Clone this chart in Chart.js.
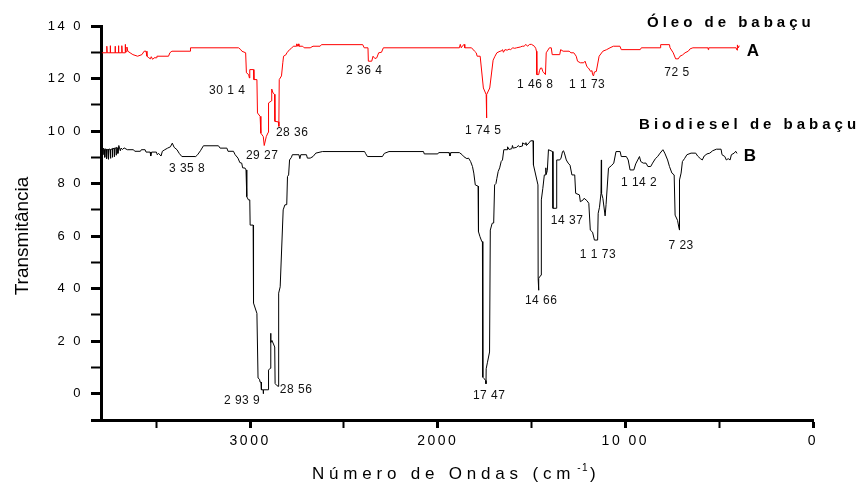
<!DOCTYPE html>
<html>
<head>
<meta charset="utf-8">
<script src="https://cdn.jsdelivr.net/npm/chart.js@4.4.0/dist/chart.umd.min.js"></script>
<style>
  html, body { margin: 0; padding: 0; background: #fff; }
</style>
</head>
<body>
<canvas id="espectro" width="861" height="485"></canvas>
<script>
// Espectros FTIR do oleo e do biodiesel de babacu
// Numero de ondas (cm-1) e transmitancia
const oleoOndas = [3790, 3764, 3764, 3762, 3746, 3746, 3744, 3720, 3720, 3718, 3702, 3702, 3700, 3684, 3684, 3682, 3666, 3666, 3664, 3657, 3657, 3652, 3640, 3625, 3600, 3577, 3565, 3555, 3550, 3540, 3532, 3527, 3520, 3512, 3500, 3497, 3435, 3428, 3417, 3320, 3318, 3062, 3050, 3044, 3024, 3020, 3008, 3004, 3002, 2982, 2980, 2964, 2961, 2947, 2943, 2930, 2925, 2914, 2904, 2902, 2886, 2885, 2878, 2870, 2868, 2850, 2847, 2845, 2833, 2826, 2822, 2810, 2804, 2790, 2780, 2770, 2755, 2752, 2748, 2744, 2740, 2720, 2712, 2680, 2665, 2627, 2620, 2400, 2392, 2372, 2370, 2352, 2345, 2335, 2325, 2315, 2300, 2290, 1885, 1880, 1875, 1868, 1860, 1856, 1820, 1805, 1795, 1790, 1774, 1757, 1742, 1741, 1738, 1723, 1705, 1695, 1685, 1668, 1660, 1655, 1650, 1642, 1630, 1620, 1612, 1600, 1590, 1580, 1560, 1550, 1540, 1530, 1522, 1510, 1500, 1485, 1478, 1474, 1472, 1462, 1458, 1452, 1446, 1440, 1426, 1422, 1405, 1395, 1390, 1350, 1345, 1332, 1300, 1290, 1275, 1262, 1255, 1240, 1222, 1215, 1205, 1197, 1185, 1178, 1175, 1170, 1165, 1155, 1140, 1120, 1100, 1082, 1064, 1029, 1022, 921, 915, 815, 812, 765, 762, 745, 732, 718, 709, 695, 682, 665, 655, 640, 560, 558, 556, 410, 405, 403, 398, 393]
const oleoTrans = [129.8, 129.8, 132.3, 129.8, 129.8, 132.5, 129.8, 129.8, 132.3, 129.8, 129.8, 132.5, 129.8, 129.8, 132.5, 129.8, 129.8, 133, 130.2, 130.2, 132, 130.4, 129.8, 129.1, 128.5, 129.1, 130.4, 130.4, 128.5, 127.9, 127.5, 128.3, 127.3, 127.9, 127.9, 128.5, 128.5, 129.8, 130.4, 130.4, 131.7, 131.7, 131, 130.4, 129.8, 122.2, 121.5, 120.2, 123.4, 123.4, 119.6, 119.6, 106.9, 105.6, 99.2, 97.9, 94.5, 97.9, 99.5, 110.7, 111.5, 116, 114.5, 114, 103.7, 103.5, 101.8, 119.6, 121, 126, 128.5, 129, 129.8, 131, 131.5, 132.3, 132.3, 133.2, 132.3, 133.2, 132.3, 132.3, 131.7, 131.7, 132.3, 132.3, 132.9, 132.9, 131.7, 131.7, 126.6, 126.6, 128.5, 127.6, 127.9, 129.8, 130, 131.7, 131.7, 133, 131.7, 132.4, 133, 131.7, 131.7, 130.5, 129.8, 128.5, 128.5, 116.4, 113.9, 105, 113.9, 116.4, 127, 128.5, 129.8, 130.4, 130.5, 131, 130, 131, 130.8, 131.2, 131, 131.7, 131.5, 131.7, 132, 132.3, 132.3, 133, 132.3, 133, 133, 132.3, 131.5, 130.4, 121.5, 121.5, 123, 124, 124, 122.7, 121.5, 129.8, 131.7, 131.7, 129.1, 129.1, 131, 130.4, 130.4, 129.8, 129.8, 128.5, 126.6, 126, 126, 126.6, 124.5, 124, 122.7, 123, 121.5, 121, 122.5, 122.7, 128.5, 130.4, 131, 131.7, 132.3, 132.3, 131, 131, 131.7, 131.7, 132.9, 132.9, 131.7, 129.8, 127.5, 127.5, 128.5, 129, 129.8, 130.4, 131.3, 131.7, 131.7, 131, 131.7, 131.7, 130.8, 132.8, 131.7, 132.5]

const biodieselOndas = [3790, 3785, 3785, 3782, 3775, 3775, 3772, 3765, 3765, 3762, 3755, 3755, 3752, 3745, 3745, 3742, 3735, 3735, 3732, 3725, 3725, 3722, 3715, 3715, 3712, 3705, 3705, 3700, 3692, 3688, 3680, 3672, 3655, 3622, 3615, 3585, 3580, 3560, 3555, 3533, 3530, 3525, 3500, 3495, 3488, 3475, 3468, 3455, 3440, 3425, 3415, 3405, 3390, 3378, 3364, 3290, 3280, 3265, 3249, 3169, 3160, 3124, 3118, 3089, 3080, 3065, 3055, 3045, 3040, 3027, 3022, 3018, 3009, 3002, 3000, 2984, 2982, 2964, 2958, 2950, 2947, 2942, 2940, 2930, 2930, 2929, 2903, 2902, 2893, 2891, 2889, 2884, 2869, 2867, 2859, 2850, 2848, 2840, 2824, 2815, 2805, 2801, 2795, 2790, 2780, 2775, 2740, 2735, 2730, 2700, 2695, 2680, 2665, 2650, 2615, 2390, 2385, 2375, 2295, 2285, 2260, 2076, 2072, 2000, 1995, 1940, 1935, 1930, 1885, 1870, 1862, 1845, 1836, 1825, 1815, 1808, 1800, 1785, 1783, 1775, 1765, 1762, 1760, 1752, 1745, 1743, 1742, 1735, 1724, 1720, 1710, 1702, 1697, 1690, 1685, 1678, 1670, 1662, 1655, 1648, 1630, 1628, 1620, 1605, 1602, 1598, 1580, 1570, 1565, 1550, 1548, 1535, 1530, 1527, 1510, 1505, 1492, 1490, 1466, 1465, 1462, 1462, 1449, 1448, 1440, 1432, 1425, 1424, 1422, 1416, 1410, 1388, 1386, 1368, 1366, 1350, 1343, 1335, 1330, 1325, 1315, 1305, 1295, 1285, 1270, 1265, 1245, 1240, 1225, 1220, 1205, 1195, 1187, 1175, 1165, 1148, 1145, 1138, 1130, 1128, 1127, 1120, 1108, 1103, 1090, 1075, 1062, 1050, 1028, 1022, 995, 985, 975, 955, 945, 925, 918, 905, 890, 880, 865, 855, 840, 828, 815, 800, 790, 775, 765, 752, 740, 735, 722, 714, 712, 711, 703, 696, 685, 672, 650, 625, 615, 600, 590, 580, 565, 550, 535, 515, 490, 485, 470, 462, 452, 442, 435, 420, 412, 405]
const biodieselTrans = [93.5, 93, 91, 93.5, 93, 90, 93.2, 93, 89.5, 93, 93, 89.3, 93.2, 93, 89.6, 93, 93.2, 90, 93.4, 93.3, 90.2, 93.5, 93.5, 90.8, 93.8, 93.5, 91.5, 94.5, 92.5, 93.5, 93, 93.6, 92.9, 92.9, 92.3, 92.3, 92.9, 92.9, 92, 92, 90.5, 92, 92, 91, 91.5, 90.5, 92.3, 92.9, 93.5, 94, 95.4, 93.8, 92.9, 91.5, 90.3, 90.3, 91, 92.5, 94.4, 94.4, 93.5, 93.5, 92.3, 92.3, 91, 89.7, 88, 87.8, 86, 85.9, 85.2, 75, 73.8, 73.8, 64.2, 64.2, 34.5, 30.6, 6, 5.5, 4.4, 4.4, 1.5, 1.5, 0, 1.5, 1.5, 9, 9.7, 23, 19.5, 20.3, 17.8, 3.9, 3.2, 2.8, 38.3, 40.7, 70, 71.9, 72, 82.7, 83.3, 89, 90, 91, 91, 89.5, 91, 91, 89.7, 89.7, 90.3, 91.6, 92.2, 92.2, 91.5, 90.3, 90.3, 91.5, 92.2, 92.2, 91.3, 91.3, 91.8, 91.8, 90.5, 91.8, 91.8, 91, 90.3, 89.5, 89.7, 88.4, 86.5, 84, 79.5, 79, 61.7, 59.8, 57.9, 57.9, 6.3, 5.7, 5, 3.8, 9.5, 12, 15.9, 62.3, 64.9, 65, 79.5, 80, 82, 84.6, 86, 88.4, 89, 92.9, 92.9, 94, 93, 93.3, 94.5, 93.5, 93.8, 94.5, 94, 94.3, 95.5, 95, 95.6, 94.5, 95.8, 96.3, 96.3, 87.1, 79.5, 43.9, 39.4, 44, 45.2, 73.8, 78.2, 83.3, 83.3, 86, 83.5, 85, 92.9, 92.2, 70.6, 70.6, 89, 89, 89.7, 92.2, 92.5, 91.6, 89, 87.8, 87, 83.3, 83.3, 76.3, 75.7, 73.1, 73.8, 74.4, 73.5, 72.5, 62.3, 61.5, 58.5, 58.5, 68.7, 71, 76.3, 89, 76.3, 74.4, 67.7, 72, 85.9, 86.8, 87.8, 92.2, 92.2, 90.3, 90.3, 89, 85.2, 85.2, 87.5, 90.3, 88.4, 87.8, 87.8, 86.5, 86.5, 87.8, 89.5, 90.3, 91.6, 92.9, 91.6, 89, 86.5, 84, 83.3, 68, 66, 63, 62.3, 81.4, 84, 88.4, 89.5, 91, 91.6, 91.6, 90.5, 89.5, 89, 90.5, 91.3, 91.6, 92.5, 93.1, 93.1, 91, 90.3, 89, 89.5, 89, 91, 91.6, 92.3, 91.5]

// Marcacoes dos eixos (textos como no original)
const eixoYValores = [0, 20, 40, 60, 80, 100, 120, 140]
const eixoYTextos = ["0", "2 0", "4 0", "6 0", "8 0", "10 0", "12 0", "14 0"]
const eixoYTodos = [-10, 0, 10, 20, 30, 40, 50, 60, 70, 80, 90, 100, 110, 120, 130, 140]
const eixoXValores = [3000, 2000, 1000, 0]
const eixoXTextos = ["3000", "2000", "10 00", "0"]
const eixoXTodos = [3500, 3000, 2500, 2000, 1500, 1000, 500, 0]

// Picos anotados (texto, numero de onda, transmitancia)
const picosOleo = ["30 1 4", "29 27", "28 36", "2 36 4", "1 74 5", "1 46 8", "1 1 73", "72 5"]
const picosOleoX = [3122, 2936, 2776, 2392, 1758, 1481, 1204, 725]
const picosOleoY = [115.2, 90.8, 99.2, 122.8, 100.3, 117.5, 117.5, 122.1]
const picosBiodiesel = ["3 35 8", "2 93 9", "28 56", "17 47", "14 66", "14 37", "1 1 73", "1 14 2", "7 23"]
const picosBiodieselX = [3336, 3043, 2755, 1726, 1449, 1311, 1146, 927, 703]
const picosBiodieselY = [85.5, -2.6, 1.6, -0.6, 35.6, 65.7, 53.1, 80.5, 56.5]

const fonte = "'Liberation Sans', Arial, sans-serif"
Chart.defaults.font.family = fonte

// Plugin pour ecrire les textes (titres, pics, titres des axes)
const textos = {
    id: "textos",
    beforeDraw(chart) {
        chart.ctx.letterSpacing = "2.5px" // espacement des graduations
    },
    afterDatasetsDraw(chart) {
        chart.ctx.letterSpacing = "0px"
    },
    afterDraw(chart) {
        const { ctx, scales: { x, y } } = chart
        ctx.save()
        ctx.fillStyle = "#111"
        ctx.textAlign = "center"
        ctx.textBaseline = "middle"
        ctx.font = "12px " + fonte
        ctx.letterSpacing = "0.5px"
        picosOleo.forEach((t, i) => ctx.fillText(t, x.getPixelForValue(picosOleoX[i]), y.getPixelForValue(picosOleoY[i])))
        picosBiodiesel.forEach((t, i) => ctx.fillText(t, x.getPixelForValue(picosBiodieselX[i]), y.getPixelForValue(picosBiodieselY[i])))

        // Nomes das amostras
        ctx.fillStyle = "#000"
        ctx.textAlign = "left"
        ctx.font = "bold 15px " + fonte
        ctx.letterSpacing = "4px"
        ctx.fillText("Óleo de babaçu", x.getPixelForValue(885), y.getPixelForValue(141.1))
        ctx.fillText("Biodiesel de babaçu", x.getPixelForValue(927), y.getPixelForValue(102.2))
        ctx.letterSpacing = "0px"
        ctx.textAlign = "center"
        ctx.font = "bold 17px " + fonte
        ctx.fillText("A", x.getPixelForValue(320), y.getPixelForValue(130.4))
        ctx.fillText("B", x.getPixelForValue(336), y.getPixelForValue(90.4))

        // Titulo do eixo Y
        ctx.font = "19px " + fonte
        ctx.textBaseline = "alphabetic"
        ctx.save()
        ctx.translate(28, 236)
        ctx.rotate(-Math.PI / 2)
        ctx.fillText("Transmitância", 0, 0)
        ctx.restore()

        // Titulo do eixo X com expoente
        ctx.textAlign = "left"
        ctx.font = "17px " + fonte
        ctx.letterSpacing = "4.8px"
        let px = 312
        const base = 479
        ctx.fillText("Número de Ondas (cm", px, base)
        px += ctx.measureText("Número de Ondas (cm").width + 2
        ctx.font = "10px " + fonte
        ctx.letterSpacing = "1.5px"
        ctx.fillText("-1", px, base - 8)
        px += ctx.measureText("-1").width + 1
        ctx.font = "17px " + fonte
        ctx.letterSpacing = "0px"
        ctx.fillText(")", px, base)
        ctx.restore()
    }
}

const graph = document.getElementById("espectro")
// eslint-disable-next-line no-undef
new Chart(graph, {
    type: "scatter",
    data: {
        datasets: [{
            label: "Óleo de babaçu",
            data: oleoOndas.map((v, i) => ({ x: v, y: oleoTrans[i] })),
            showLine: true,
            borderColor: "#ff0000",
            borderWidth: 1,
            pointRadius: 0,
            tension: 0
        }, {
            label: "Biodiesel de babaçu",
            data: biodieselOndas.map((v, i) => ({ x: v, y: biodieselTrans[i] })),
            showLine: true,
            borderColor: "#000000",
            borderWidth: 1,
            pointRadius: 0,
            tension: 0
        }]
    },
    options: {
        responsive: false,
        animation: false,
        layout: { padding: { top: 26, right: 48, left: 0, bottom: 0 } },
        scales: {
            x: {
                type: "linear",
                reverse: true,
                min: 0,
                max: 3795,
                afterBuildTicks: s => { s.ticks = eixoXTodos.map(v => ({ value: v })) },
                afterFit: s => { s.height = 65 },
                border: { display: true, width: 3, color: "#000" },
                grid: {
                    drawOnChartArea: false,
                    drawTicks: true,
                    tickLength: 8,
                    tickColor: "#000",
                    tickWidth: c => (c.tick && c.tick.value % 1000 === 0 ? 3 : 2)
                },
                ticks: {
                    autoSkip: false,
                    maxRotation: 0,
                    padding: 5,
                    color: "#000",
                    font: { size: 14 },
                    callback: v => {
                        const i = eixoXValores.indexOf(v)
                        return i >= 0 ? eixoXTextos[i] : ""
                    }
                }
            },
            y: {
                min: -10,
                max: 140,
                afterBuildTicks: s => { s.ticks = eixoYTodos.map(v => ({ value: v })) },
                afterFit: s => { s.width = 101 },
                border: { display: true, width: 3, color: "#000" },
                grid: {
                    drawOnChartArea: false,
                    drawTicks: true,
                    tickLength: 10,
                    tickColor: "#000",
                    tickWidth: c => (c.tick && (c.tick.value % 20 === 0 || c.tick.value === -10) ? 3 : 2)
                },
                ticks: {
                    autoSkip: false,
                    padding: 8,
                    color: "#000",
                    font: { size: 13 },
                    callback: v => {
                        const i = eixoYValores.indexOf(v)
                        return i >= 0 ? eixoYTextos[i] : ""
                    }
                }
            }
        },
        plugins: {
            legend: { display: false },
            tooltip: { enabled: false }
        }
    },
    plugins: [textos]
})
</script>
</body>
</html>
